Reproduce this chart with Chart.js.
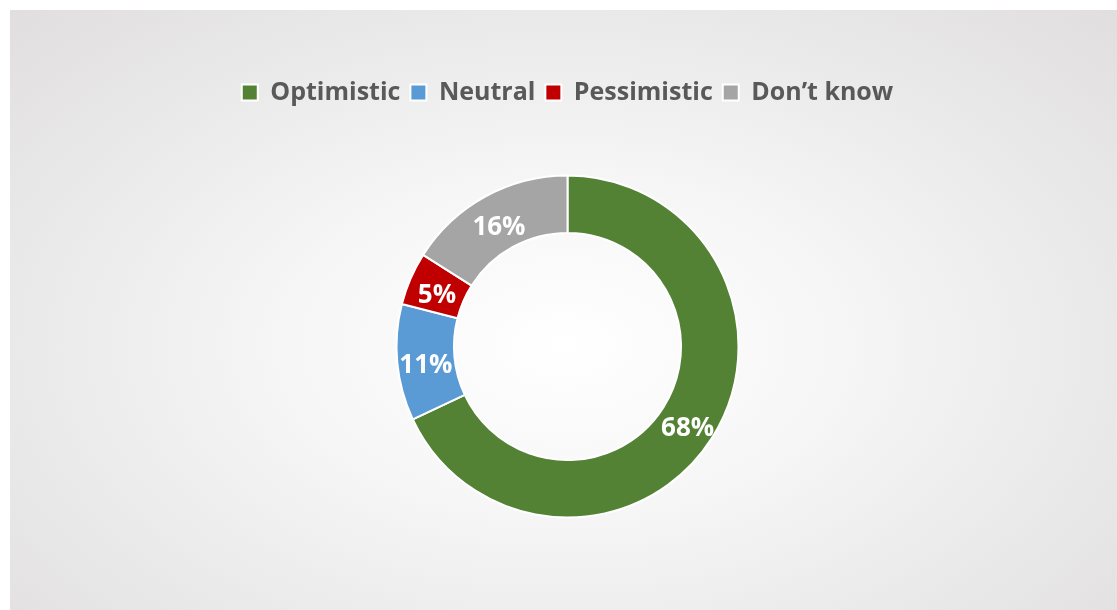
<!DOCTYPE html>
<html>
<head>
<meta charset="utf-8">
<script src="https://cdn.jsdelivr.net/npm/chart.js@4.4.0/dist/chart.umd.min.js"></script>
<style>
    html, body { margin: 0; padding: 0; background: #ffffff; }
    #card {
        position: absolute;
        left: 10px;
        top: 10px;
        width: 1107px;
        height: 600px;
        background: radial-gradient(ellipse farthest-corner at 50% 56%, #ffffff 0%, #f6f6f6 35%, #e0dede 100%);
    }
</style>
</head>
<body>
<div id="card"><canvas id="chart"></canvas></div>
<script>
const categories = ['Optimistic', 'Neutral', 'Pessimistic', 'Don\u2019t know'];
const shares = [68, 11, 5, 16];
const colors = ['#548235', '#5B9BD5', '#C00000', '#A5A5A5'];

// draw the percentage inside each slice
const sliceLabels = {
    id: 'sliceLabels',
    afterDatasetsDraw(chart) {
        const ctx = chart.ctx;
        const meta = chart.getDatasetMeta(0);
        ctx.save();
        ctx.fillStyle = '#ffffff';
        ctx.font = 'bold 26px "Open Sans", sans-serif';
        ctx.textAlign = 'center';
        ctx.textBaseline = 'middle';
        meta.data.forEach((arc, i) => {
            const pos = arc.tooltipPosition();
            ctx.fillText(shares[i] + '%', pos.x, pos.y + 6);
        });
        ctx.restore();
    }
};

new Chart(document.getElementById('chart'), {
    type: 'doughnut',
    data: {
        labels: categories,
        datasets: [{
            data: shares,
            backgroundColor: colors,
            borderColor: '#ffffff',
            borderWidth: 2,
            radius: 171,
            cutout: '66.4%'
        }]
    },
    options: {
        responsive: true,
        maintainAspectRatio: false,
        animation: false,
        layout: { padding: { top: 60, bottom: 32, left: 8, right: 0 } },
        plugins: {
            tooltip: { enabled: false },
            legend: {
                position: 'top',
                labels: {
                    color: '#595959',
                    font: { family: '"Open Sans", sans-serif', size: 25, weight: 'bold' },
                    boxWidth: 16,
                    boxHeight: 16,
                    padding: 10
                }
            }
        }
    },
    plugins: [sliceLabels]
});
</script>
</body>
</html>
